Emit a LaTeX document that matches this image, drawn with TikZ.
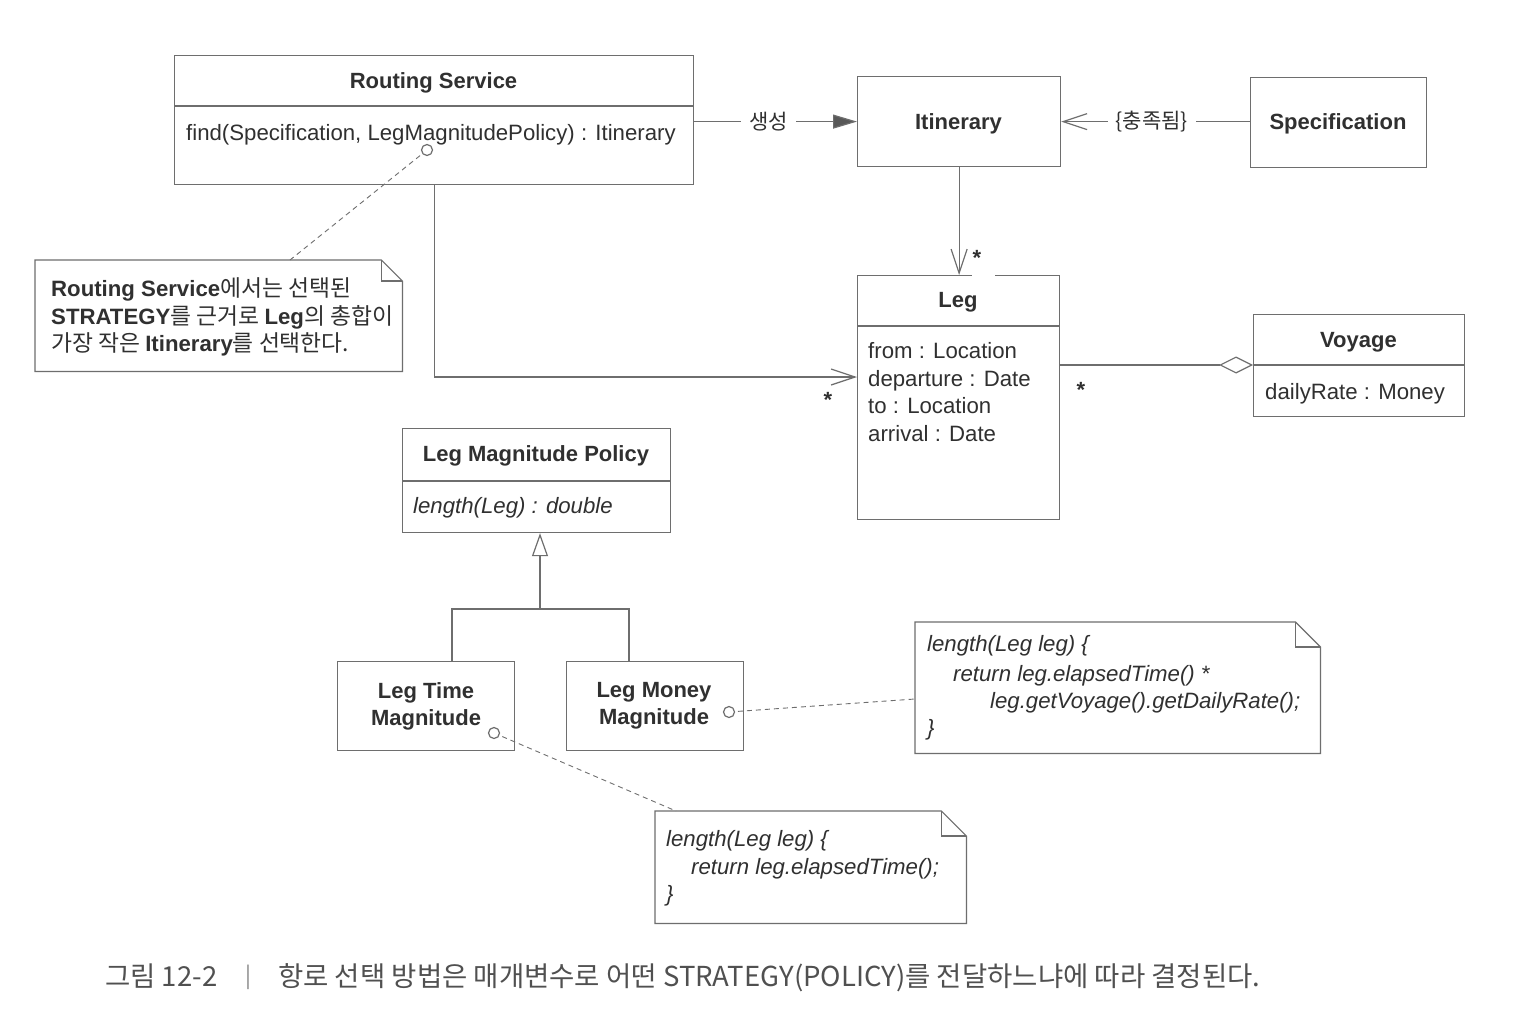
\documentclass[tikz,border=0pt]{standalone}
\usepackage{fontspec}
\setmainfont{Liberation Sans}
\newfontfamily\kr{Noto Sans CJK KR}
\usetikzlibrary{arrows.meta,calc}
\definecolor{ink}{HTML}{303030}
\definecolor{wirec}{HTML}{6E6E6E}
\definecolor{capc}{HTML}{505050}
\newcommand\drawnote[2]{%
  \draw[wire, fill=white] (#1.north west) -- ([xshift=-#2pt]#1.north east) -- ([yshift=-#2pt]#1.north east) -- (#1.south east) -- (#1.south west) -- cycle;
  \draw[wire] ([xshift=-#2pt]#1.north east) -- ([xshift=-#2pt,yshift=-#2pt]#1.north east) -- ([yshift=-#2pt]#1.north east);}
\newcommand\krn[1]{{\kr\fontsize{22.8}{27}\selectfont #1}}
\begin{document}
\begin{tikzpicture}[x=1pt,y=-1pt,
  wire/.style={draw=wirec, line width=1.2pt},
  box/.style={wire, fill=white, anchor=north west, inner sep=0pt},
  txt/.style={inner sep=0pt, text=ink, font=\fontsize{22.2}{27}\selectfont},
  txtb/.style={inner sep=0pt, text=ink, font=\fontsize{22}{27}\selectfont\bfseries},
  txti/.style={inner sep=0pt, text=ink, font=\fontsize{22.2}{27}\selectfont\itshape},
  lbl/.style={inner sep=0pt, text=ink, font=\kr\fontsize{21}{25}\selectfont, fill=white, inner xsep=8pt, inner ysep=3pt},
  mult/.style={inner sep=0pt, text=ink, font=\fontsize{22}{27}\selectfont\bfseries, anchor=base},
  circ/.style={circle, wire, fill=white, minimum size=11pt, inner sep=0pt},
  notelink/.style={draw=wirec, line width=0.9pt, dash pattern=on 5pt off 4pt},
  openbarb/.style={-{Straight Barb[length=24pt,width=16pt,line width=1.2pt]}}
]
\fill[white] (0,0) rectangle (1524,1036);
\useasboundingbox (0,0) rectangle (1524,1036);

% ---------- Routing Service ----------
\node[box, minimum width=519pt, minimum height=129pt] (rs) at (174,55) {};
\draw[wire] (rs.west |- 0,106) -- (rs.east |- 0,106);
\node[txtb, anchor=base] (rst) at (433.5,88) {Routing Service};
\node[txt, anchor=base west] (rsm) at (186,140) {find(Specification, LegMagnitudePolicy) : Itinerary};

% ---------- Itinerary ----------
\node[box, minimum width=203pt, minimum height=90pt] (it) at (857,76) {};
\node[txtb, anchor=base] (itt) at (958.5,129) {Itinerary};

% ---------- Specification ----------
\node[box, minimum width=176pt, minimum height=90pt] (sp) at (1250,77) {};
\node[txtb, anchor=base] (spt) at (1338,129) {Specification};

% ---------- Leg ----------
\node[box, minimum width=202pt, minimum height=244pt] (leg) at (857,275) {};
\draw[wire] (leg.west |- 0,326) -- (leg.east |- 0,326);
\draw[white, line width=3pt] ([xshift=13pt]leg.north) -- ([xshift=36pt]leg.north);
\node[txtb, anchor=base] (legt) at (958,307) {Leg};
\node[txt, anchor=base west] (lega1) at (868,358) {from : Location};
\node[txt, anchor=base west] (lega2) at (868,386) {departure : Date};
\node[txt, anchor=base west] (lega3) at (868,413) {to : Location};
\node[txt, anchor=base west] (lega4) at (868,441) {arrival : Date};

% ---------- Voyage ----------
\node[box, minimum width=211pt, minimum height=102pt] (vo) at (1253,314) {};
\draw[wire] (vo.west |- 0,365) -- (vo.east |- 0,365);
\node[txtb, anchor=base] (vot) at (1358.5,347) {Voyage};
\node[txt, anchor=base west] (voa) at (1265,399) {dailyRate : Money};

% ---------- Leg Magnitude Policy ----------
\node[box, minimum width=268pt, minimum height=104pt] (lmp) at (402,428) {};
\draw[wire] (lmp.west |- 0,481) -- (lmp.east |- 0,481);
\node[txtb, anchor=base] (lmpt) at (536,461) {Leg Magnitude Policy};
\node[txti, anchor=base west] (lmpm) at (413,513) {length(Leg) : double};

% ---------- Leg Time / Leg Money ----------
\node[box, minimum width=177pt, minimum height=89pt] (lt) at (337,661) {};
\node[txtb, align=center] (ltt) at (426,706) {Leg Time\\Magnitude};
\node[box, minimum width=177pt, minimum height=89pt] (lm) at (566,661) {};
\node[txtb, align=center] (lmt) at (654,706) {Leg Money\\Magnitude};

% ---------- Notes ----------
\node[inner sep=0pt, anchor=north west, minimum width=367pt, minimum height=111pt] (n1) at (35,260) {};
\drawnote{n1}{21}
\node[txt, anchor=base west] (n1a) at (51,296) {\bfseries Routing Service\mdseries\krn{에서는 선택된}};
\node[txt, anchor=base west] (n1b) at (51,324) {\bfseries STRATEGY\mdseries\krn{를 근거로 }\bfseries Leg\mdseries\krn{의 총합이}};
\node[txt, anchor=base west] (n1c) at (51,351) {\krn{가장 작은 }\bfseries Itinerary\mdseries\krn{를 선택한다.}};

\node[inner sep=0pt, anchor=north west, minimum width=405pt, minimum height=131pt] (n2) at (915,622) {};
\drawnote{n2}{25}
\node[txti, anchor=base west] (n2a) at (927,651) {length(Leg leg) \{};
\node[txti, anchor=base west] (n2b) at (953,681) {return leg.elapsedTime() *};
\node[txti, anchor=base west] (n2c) at (990,708) {leg.getVoyage().getDailyRate();};
\node[txti, anchor=base west] (n2d) at (927,735) {\}};

\node[inner sep=0pt, anchor=north west, minimum width=311pt, minimum height=112pt] (n3) at (655,811) {};
\drawnote{n3}{25}
\node[txti, anchor=base west] (n3a) at (666,846) {length(Leg leg) \{};
\node[txti, anchor=base west] (n3b) at (691,874) {return leg.elapsedTime();};
\node[txti, anchor=base west] (n3c) at (666,901) {\}};

% ---------- note anchors ----------
\coordinate (c1at) at (427,150);
\coordinate (c2at) at (494,733);
\coordinate (c3at) at (729,712);
\draw[notelink] (c1at) -- (290,0 |- n1.north);
\draw[notelink] (c2at) -- (676,0 |- n3.north);
\draw[notelink] (c3at) -- (n2.west |- 0,699);
\node[circ] (c1) at (c1at) {};
\node[circ] (c2) at (c2at) {};
\node[circ] (c3) at (c3at) {};

% ---------- connectors ----------
\draw[wire, -{Triangle[length=24pt,width=14pt,fill=wirec!80!black]}] (rs.east |- it.west) -- (it.west)
  node[lbl, pos=0.457] (lcreate) {생성};
\draw[wire, openbarb] (sp.west |- it.east) -- (it.east)
  node[lbl, pos=0.52] (lsat) {\{충족됨\}};
\draw[wire, openbarb] (it.south) -- (it.south |- leg.north);
\node[mult] (m1) at (977,265) {*};
\draw[wire, openbarb] (rs.south) |- (leg.west |- 0,377);
\node[mult] (m2) at (828,407) {*};
\draw[wire, -{Diamond[open,length=34pt,width=17pt,line width=1.2pt]}] (leg.east |- 0,365) -- (vo.west |- 0,365);
\node[mult] (m3) at (1081,397) {*};

\coordinate (gj) at (540,609);
\draw[wire, -{Triangle[open,length=23pt,width=16pt,line width=1.2pt]}] (gj) -- (gj |- lmp.south);
\draw[wire] (452,0 |- lt.north) |- (gj) -| (629,0 |- lm.north);

% ---------- caption ----------
\node[inner sep=0pt, anchor=base west, text=capc, font=\kr\fontsize{27.5}{30}\selectfont] (cap1) at (105,986) {그림 12-2};
\node[inner sep=0pt, anchor=base, text=capc!70, font=\kr\fontsize{22}{30}\selectfont] (capbar) at (248,983) {|};
\node[inner sep=0pt, anchor=base west, text=capc, font=\kr\fontsize{27.5}{30}\selectfont] (cap2) at (278,986) {항로 선택 방법은 매개변수로 어떤 STRATEGY(POLICY)를 전달하느냐에 따라 결정된다.};
\end{tikzpicture}
\end{document}
